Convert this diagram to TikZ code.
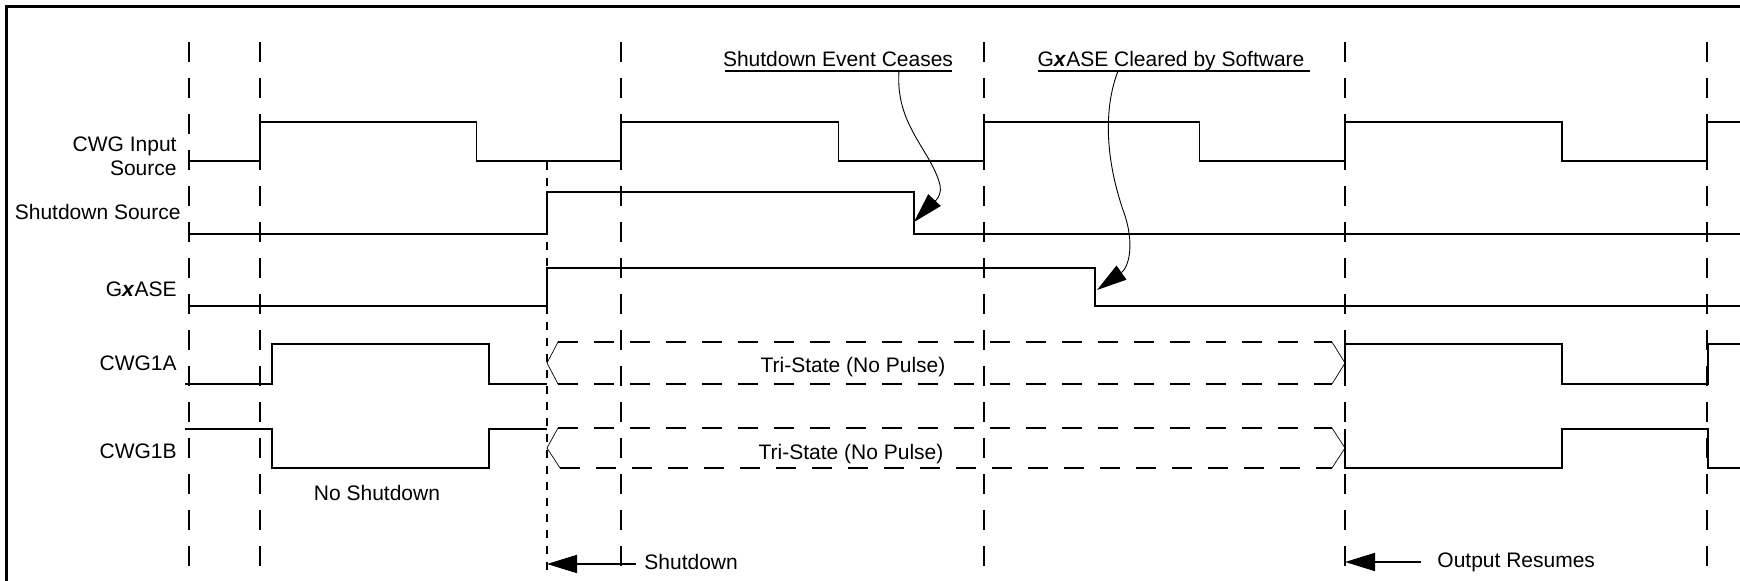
\documentclass[tikz,border=0pt]{standalone}
\usepackage{fontspec}
\setmainfont{Liberation Sans}
\usetikzlibrary{arrows.meta}
\begin{document}
\begin{tikzpicture}[x=0.5pt,y=-0.5pt,
  sig/.style={line width=0.95pt, line join=miter},
  gridline/.style={line width=0.8pt, dash pattern=on 10pt off 8pt},
  fineline/.style={line width=0.6pt, dash pattern=on 4pt off 4pt},
  tristate/.style={line width=0.9pt, dash pattern=on 10pt off 8pt},
  chev/.style={line width=0.35pt},
  lbl/.style={font=\fontsize{10.5pt}{12.6pt}\selectfont, inner sep=0pt},
  callout/.style={line width=0.45pt, -{Triangle[length=15pt,width=8.5pt]}},
  marker/.style={line width=0.9pt, -{Triangle[length=15pt,width=9pt]}},
  uline/.style={line width=0.7pt},
]
\useasboundingbox (0,0) rectangle (1740,581);
\fill[white] (0,0) rectangle (1740,581);
% frame
\draw[line width=1.1pt] (6.5,590) -- (6.5,6.5) -- (1745,6.5);

% time grid
\foreach \x in {189,260,621,984,1345,1707} \draw[gridline] (\x,42) -- (\x,574);
\draw[fineline] (547,162) -- (547,574);

% labels
\node[lbl, anchor=base east] (lin1) at (177,152) {CWG Input};
\node[lbl, anchor=base east] (lin2) at (177,176) {Source};
\node[lbl, anchor=base east] (lsd) at (181,220) {Shutdown Source};
\node[lbl, anchor=base east] (lase) at (177,297) {G\textbf{\textit{x}}ASE};
\node[lbl, anchor=base east] (la) at (177,371) {CWG1A};
\node[lbl, anchor=base east] (lb) at (177,459) {CWG1B};

% CWG input source
\draw[sig] (189,161) -- (260,161) -- (260,122) -- (476.5,122) -- (476.5,161) -- (621,161)
  -- (621,122) -- (838.5,122) -- (838.5,161) -- (984,161) -- (984,122) -- (1199.5,122)
  -- (1199.5,161) -- (1345,161) -- (1345,122) -- (1562,122) -- (1562,161) -- (1707,161)
  -- (1707,122) -- (1745,122);
% shutdown source
\draw[sig] (189,234) -- (547,234) -- (547,192) -- (914,192) -- (914,234) -- (1745,234);
% GxASE
\draw[sig] (189,306) -- (547,306) -- (547,268) -- (1095,268) -- (1095,306) -- (1745,306);
% CWG1A
\draw[sig] (185,384) -- (272,384) -- (272,344) -- (489,344) -- (489,384) -- (547,384);
\draw[sig] (1345,384) -- (1345,344) -- (1562,344) -- (1562,384) -- (1708,384) -- (1708,344) -- (1745,344);
% CWG1B
\draw[sig] (185,429) -- (272,429) -- (272,468) -- (489,468) -- (489,429) -- (547,429);
\draw[sig] (1345,429) -- (1345,468) -- (1562,468) -- (1562,429) -- (1708,429) -- (1708,468) -- (1745,468);

% tri-state regions
\draw[tristate] (558,342) -- (1332,342);
\draw[tristate] (558,384) -- (1332,384);
\draw[tristate] (558,428) -- (1332,428);
\draw[tristate] (560,468) -- (1332,468);
\draw[chev] (558,342) -- (547,363) -- (558,384);
\draw[chev] (558,428) -- (547,448) -- (560,468);
\draw[chev] (1332,342) -- (1345,363) -- (1332,384);
\draw[chev] (1332,428) -- (1345,448) -- (1332,468);
\node[lbl, anchor=base] (tsa) at (853,373) {Tri-State (No Pulse)};
\node[lbl, anchor=base] (tsb) at (851,460) {Tri-State (No Pulse)};

% bottom annotations
\node[lbl, anchor=base] (nosd) at (377,501) {No Shutdown};
\node[lbl, anchor=base west] (sdl) at (644,570) {Shutdown};
\coordinate (sdtail) at (636,564);
\coordinate (sdtip) at (547,564);
\draw[marker] (sdtail) -- (sdtip);
\node[lbl, anchor=base west] (orl) at (1437,568) {Output Resumes};
\coordinate (ortail) at (1421,562);
\coordinate (ortip) at (1345,562);
\draw[marker] (ortail) -- (ortip);

% callouts
\node[lbl, anchor=base] (sec) at (838,66.5) {Shutdown Event Ceases};
\draw[uline] (725,71) -- (952,71);
\coordinate (c1s) at (899,71);
\coordinate (c1t) at (914,222);
\draw[callout] (c1s) .. controls (895,125) and (931,150) .. (940,185)
  .. controls (943,199) and (929,206) .. (c1t);

\node[lbl, anchor=base] (gcs) at (1171,66.5) {G\textbf{\textit{x}}ASE Cleared by Software};
\draw[uline] (1038,71) -- (1310,71);
\coordinate (c2s) at (1118,71);
\coordinate (c2t) at (1097,290);
\draw[callout] (c2s) .. controls (1103,110) and (1106,160) .. (1123,210)
  .. controls (1136,245) and (1128,268) .. (c2t);
\end{tikzpicture}
\end{document}
